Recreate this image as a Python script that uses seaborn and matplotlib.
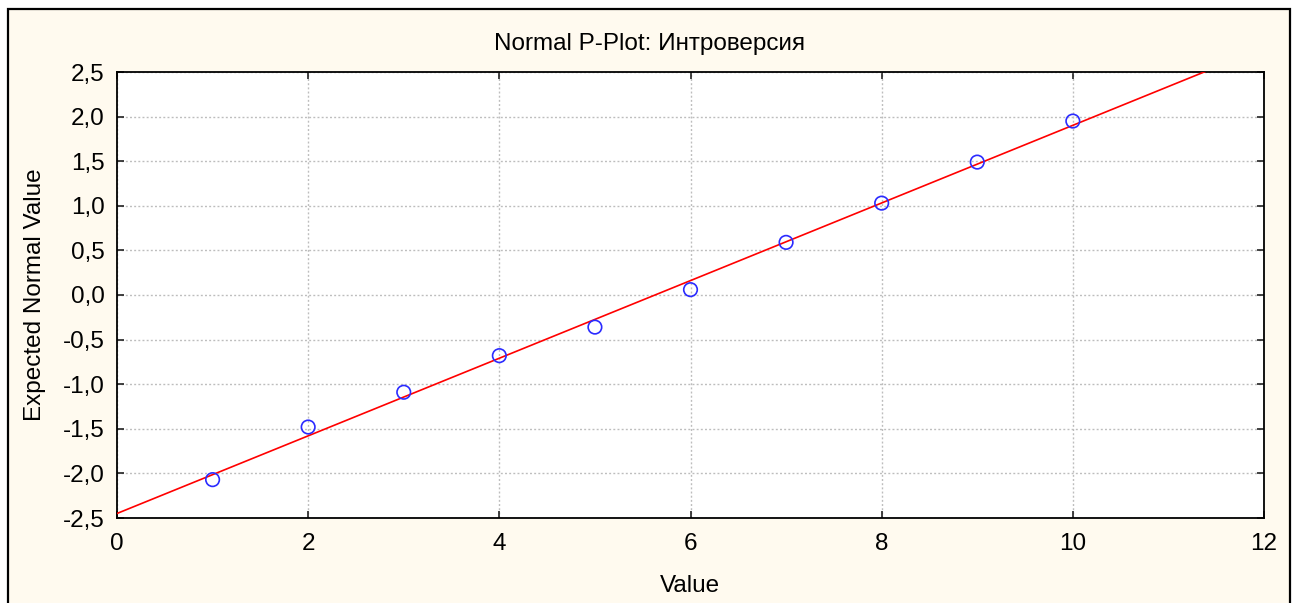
import numpy as np
import pandas as pd
import matplotlib
matplotlib.use("Agg")
import matplotlib.pyplot as plt
import seaborn as sns
from matplotlib.patches import Rectangle
from matplotlib.ticker import FixedLocator, FixedFormatter

# Data
values = [1, 2, 3, 4, 5, 6, 7, 8, 9, 10]
expected_normal = [-2.07, -1.48, -1.09, -0.68, -0.36, 0.06, 0.59, 1.03, 1.49, 1.95]
x_ticks = [0, 2, 4, 6, 8, 10, 12]
y_ticks = [-2.5, -2.0, -1.5, -1.0, -0.5, 0.0, 0.5, 1.0, 1.5, 2.0, 2.5]
y_tick_labels = ["-2,5", "-2,0", "-1,5", "-1,0", "-0,5", "0,0", "0,5", "1,0", "1,5", "2,0", "2,5"]
title = "Normal P-Plot: Интроверсия"
x_label = "Value"
y_label = "Expected Normal Value"

df = pd.DataFrame({"Value": values, "Expected": expected_normal})

sns.set_theme(style="white")
plt.rcParams["font.family"] = ["Liberation Sans", "DejaVu Sans"]
plt.rcParams["text.color"] = "black"

FS = 17.5
W, H = 1297, 603
fig = plt.figure(figsize=(W / 100, H / 100), dpi=100)
fig.patch.set_facecolor("white")

cream = "#FFFAEF"
# Outer cream panel with black frame
fig.patches.append(Rectangle((8 / W, -0.05), (1290 - 8) / W, (H - 9) / H + 0.05,
                             transform=fig.transFigure, facecolor=cream,
                             edgecolor="black", linewidth=1.6, zorder=-10))

ax = fig.add_axes([117 / W, (H - 518) / H, (1264 - 117) / W, (518 - 72) / H])
ax.set_zorder(1)
ax.set_facecolor("white")

ax.set_xlim(0, 12)
ax.set_ylim(-2.5, 2.5)

sns.regplot(data=df, x="Value", y="Expected", ax=ax, scatter=False, ci=None,
            truncate=False, line_kws=dict(color="#FF0000", lw=1.2, zorder=3))
sns.scatterplot(data=df, x="Value", y="Expected", ax=ax, s=95, marker="o",
                facecolors="none", edgecolor="#2B2BFF", linewidth=1.2, zorder=4)

ax.set_xlim(0, 12)
ax.set_ylim(-2.5, 2.5)

ax.xaxis.set_major_locator(FixedLocator(x_ticks))
ax.yaxis.set_major_locator(FixedLocator(y_ticks))
ax.yaxis.set_major_formatter(FixedFormatter(y_tick_labels))
ax.set_xticklabels([str(v) for v in x_ticks])

ax.grid(True, which="major", color="#BDBDBD", linestyle=(0, (1.4, 1.6)), linewidth=1.0, zorder=1)
ax.set_axisbelow(True)

for s in ax.spines.values():
    s.set_visible(True)
    s.set_color("black")
    s.set_linewidth(1.3)

ax.tick_params(axis="both", which="major", direction="in", length=5, width=1.2,
               color="#222222", top=True, right=True, bottom=True, left=True,
               labelsize=FS, labelcolor="black")
ax.tick_params(axis="x", pad=11)
ax.tick_params(axis="y", pad=9)

ax.set_xlabel("")
ax.set_ylabel("")
fig.text(690 / W, 1 - 586 / H, x_label, ha="center", va="center", fontsize=FS, color="black")
fig.text(35 / W, 1 - 295 / H, y_label, ha="center", va="center", rotation=90, fontsize=FS, color="black")
fig.text(650 / W, 1 - 44 / H, title, ha="center", va="center", fontsize=FS, color="black")

fig.savefig("out.png", dpi=100, facecolor=fig.get_facecolor())
